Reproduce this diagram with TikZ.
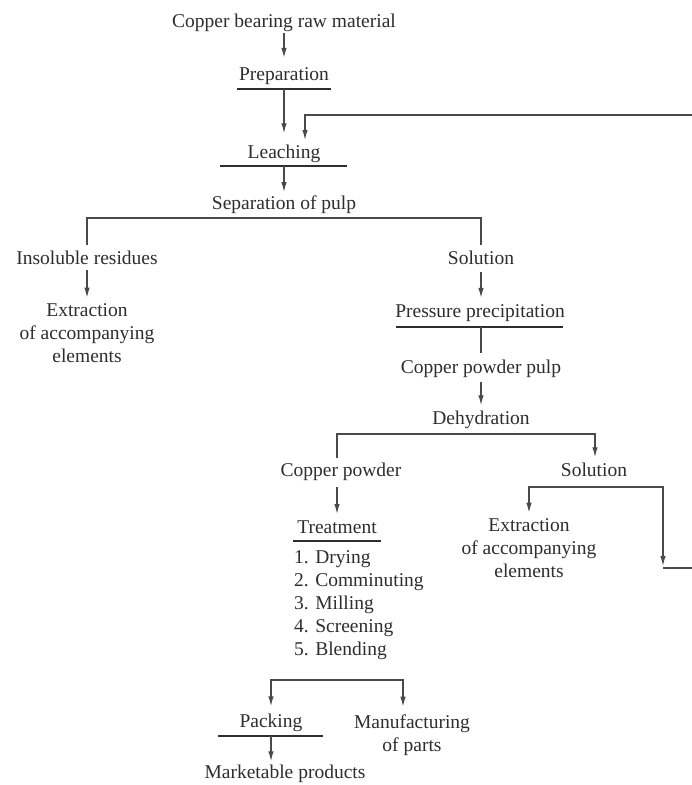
\documentclass[tikz,border=0pt]{standalone}
\usepackage{fontspec}
\setmainfont{Liberation Serif}
\usetikzlibrary{arrows.meta}
\definecolor{ink}{HTML}{2E2E2E}
\definecolor{wire}{HTML}{4A4A4A}
\begin{document}
\begin{tikzpicture}[x=1pt,y=-1pt,
  lbl/.style={inner sep=0pt, font=\fontsize{19.5}{23}\selectfont, text=ink, align=center},
  flow/.style={draw=wire, line width=1.3pt, -{Latex[length=10pt,width=5.5pt]}},
  link/.style={draw=wire, line width=1.3pt},
  ul/.style={draw=ink, line width=2.4pt}]
\useasboundingbox[fill=white] (0,0) rectangle (692,785);
% text nodes
\node[lbl,anchor=base] (raw) at (284,27) {Copper bearing raw material};
\node[lbl,anchor=base] (prep) at (284,80) {Preparation};
\node[lbl,anchor=base] (leach) at (284,158) {Leaching};
\node[lbl,anchor=base] (sep) at (284,209) {Separation of pulp};
\node[lbl,anchor=base] (insol) at (87,264) {Insoluble residues};
\node[lbl,anchor=base] (sol1) at (481,264) {Solution};
\node[lbl,anchor=north] (ext1) at (87,303.7) {Extraction\\of accompanying\\elements};
\node[lbl,anchor=base] (press) at (480,317) {Pressure precipitation};
\node[lbl,anchor=base] (cpp) at (481,373) {Copper powder pulp};
\node[lbl,anchor=base] (dehyd) at (481,424) {Dehydration};
\node[lbl,anchor=base] (cp) at (341,476) {Copper powder};
\node[lbl,anchor=base] (sol2) at (594,476) {Solution};
\node[lbl,anchor=base] (treat) at (337,533) {Treatment};
\node[lbl,anchor=north west,align=left] (list) at (294,550.7) {1. Drying\\2. Comminuting\\3. Milling\\4. Screening\\5. Blending};
\node[lbl,anchor=north] (ext2) at (529,518.7) {Extraction\\of accompanying\\elements};
\node[lbl,anchor=base] (pack) at (271,727) {Packing};
\node[lbl,anchor=north] (manu) at (412,714.7) {Manufacturing\\of parts};
\node[lbl,anchor=base] (mark) at (285,778) {Marketable products};
% coordinates
\coordinate (prepUL) at (237,89);  \coordinate (prepUR) at (331,89);  \coordinate (prepU) at (284,89);
\coordinate (leachUL) at (220,166); \coordinate (leachUR) at (347,166); \coordinate (leachU) at (284,166);
\coordinate (fbR) at (692,115); \coordinate (fbIn) at (305,140);
\coordinate (sepL) at (87,218); \coordinate (sepR) at (481,218);
\coordinate (pressUL) at (396,327); \coordinate (pressUR) at (563,327); \coordinate (pressU) at (481,327);
\coordinate (dL) at (337,434); \coordinate (dR) at (595,434);
\coordinate (treatUL) at (293,541); \coordinate (treatUR) at (381,541);
\coordinate (s2L) at (529,487); \coordinate (s2R) at (663,487);
\coordinate (retB) at (663,566); \coordinate (retR) at (692,568);
\coordinate (bL) at (271,680); \coordinate (bR) at (403,680);
\coordinate (packUL) at (218,736); \coordinate (packUR) at (323,736); \coordinate (packU) at (271,736);
% underlines
\draw[ul] (prepUL) -- (prepUR);
\draw[ul] (leachUL) -- (leachUR);
\draw[ul] (pressUL) -- (pressUR);
\draw[ul] (treatUL) -- (treatUR);
\draw[ul] (packUL) -- (packUR);
% connectors
\draw[flow, shorten <=2pt, shorten >=9pt] (raw) -- (prep);
\draw[flow, shorten >=11pt] (prepU) -- (prepU |- leach.north);
\draw[flow] (fbR) -| (fbIn);
\draw[flow, shorten >=3pt] (leachU) -- (leachU |- sep.north);
\draw[link, shorten <=5pt, shorten >=5pt] (insol.north) -- (sepL) -- (sepR) -- (sol1.north);
\draw[flow, shorten <=6pt, shorten >=6pt] (insol.south) -- (insol.south |- ext1.north);
\draw[flow, shorten <=8pt, shorten >=6pt] (sol1.south) -- (sol1.south |- press.north);
\draw[link, shorten >=6pt] (pressU) -- (pressU |- cpp.north);
\draw[flow, shorten <=5pt, shorten >=5pt] (cpp.south) -- (cpp.south |- dehyd.north);
\draw[link, shorten <=4pt] (cp.north -| dL) -- (dL) -- (dR);
\draw[flow, shorten >=5pt] (dL) -- (dR) -- (dR |- sol2.north);
\draw[flow, shorten <=7pt, shorten >=6pt] (cp.south -| treat.north) -- (treat.north);
\draw[flow, shorten >=6pt] (s2R) -- (s2L) -- (s2L |- ext2.north);
\draw[flow] (s2L) -- (s2R) -- (retB);
\draw[link] (s2R |- retR) -- (retR);
\draw[flow, shorten >=7pt] (bR) -- (bL) -- (bL |- pack.north);
\draw[flow, shorten >=8pt] (bL) -- (bR) -- (bR |- manu.north);
\draw[flow, shorten >=3pt] (packU) -- (packU |- mark.north);
\end{tikzpicture}
\end{document}
